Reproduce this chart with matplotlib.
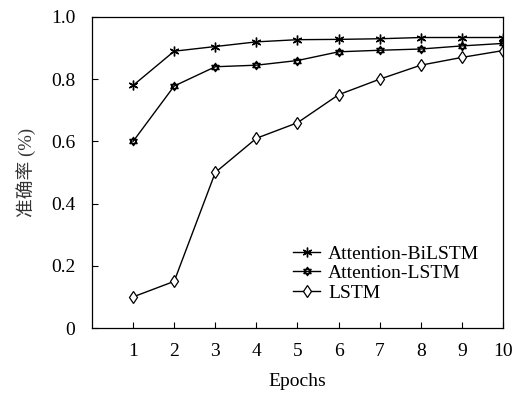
import matplotlib

matplotlib.use("Agg")

import matplotlib.pyplot as plt  # noqa: E402
from matplotlib.path import Path  # noqa: E402

epochs = [1, 2, 3, 4, 5, 6, 7, 8, 9, 10]
att_bilstm = [0.78, 0.89, 0.905, 0.92, 0.927, 0.928, 0.93, 0.934, 0.934, 0.934]
att_lstm = [0.60, 0.778, 0.84, 0.845, 0.86, 0.888, 0.893, 0.897, 0.907, 0.915]
lstm = [0.10, 0.15, 0.50, 0.61, 0.66, 0.75, 0.80, 0.845, 0.87, 0.892]
y_ticks = [0, 0.2, 0.4, 0.6, 0.8, 1.0]
y_tick_labels = ["0", "0.2", "0.4", "0.6", "0.8", "1.0"]

plt.rcParams["font.family"] = ["Liberation Serif", "Noto Sans CJK SC"]

# hexagram marker: two overlapping triangles
_up = [(0, 1), (0.866, -0.5), (-0.866, -0.5), (0, 1)]
_dn = [(0, -1), (0.866, 0.5), (-0.866, 0.5), (0, -1)]
hexagram = Path(
    _up + _dn,
    [Path.MOVETO, Path.LINETO, Path.LINETO, Path.CLOSEPOLY] * 2,
)

fig = plt.figure(figsize=(5.18, 3.94), dpi=100)
ax = fig.add_axes([0.1776, 0.1675, 0.7934, 0.7894])

ax.plot(epochs, att_bilstm, color="black", lw=1.0, marker=(6, 2, 0), ms=7,
        mew=1.0, label="Attention-BiLSTM")
ax.plot(epochs, att_lstm, color="black", lw=1.0, marker=hexagram, ms=6,
        mew=1.0, mfc="white", label="Attention-LSTM")
ax.plot(epochs, lstm, color="black", lw=1.0, marker="d", ms=6.5,
        mew=0.9, mfc="white", label="LSTM")

ax.set_xlim(0, 10)
ax.set_ylim(0, 1.0)
ax.set_xticks(epochs)
ax.set_yticks(y_ticks)
ax.set_yticklabels(y_tick_labels)
ax.tick_params(direction="in", length=4, width=0.8, labelsize=14,
               colors="black", pad=12)
ax.tick_params(axis="x", pad=11)
for sp in ax.spines.values():
    sp.set_linewidth(0.9)

ax.set_xlabel("Epochs", fontsize=14, labelpad=9)
ax.set_ylabel("准确率 (%)", fontsize=13.5, color="#333333", labelpad=11)

ax.legend(loc="upper left", bbox_to_anchor=(0.47, 0.292), frameon=False,
          fontsize=14, handlelength=1.4, handletextpad=0.4,
          labelspacing=0.1, borderaxespad=0)

fig.savefig("out.png", dpi=100)
